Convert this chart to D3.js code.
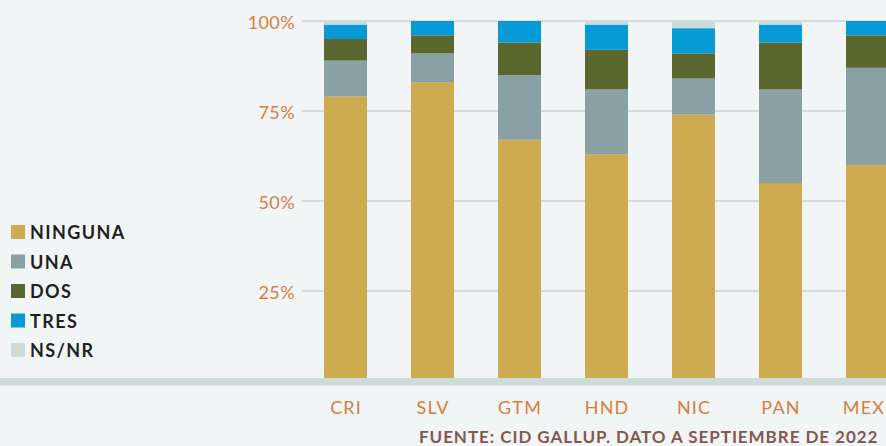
<!DOCTYPE html>
<html>
<head>
<meta charset="utf-8">
<script src="https://cdn.jsdelivr.net/npm/d3@7"></script>
<style>
  html, body { margin: 0; padding: 0; background: #f1f5f6; }
  svg { display: block; }
</style>
</head>
<body>
<div id="chart"></div>
<script>
// DATOS
const paises = ["CRI", "SLV", "GTM", "HND", "NIC", "PAN", "MEX"];
const categorias = ["NINGUNA", "UNA", "DOS", "TRES", "NS/NR"];
const ninguna = [79, 83, 67, 63, 74, 55, 60];
const una     = [10,  8, 18, 18, 10, 26, 27];
const dos     = [ 6,  5,  9, 11,  7, 13,  9];
const tres    = [ 4,  4,  6,  7,  7,  5,  4];
const nsnr    = [ 1,  0,  0,  1,  2,  1,  0];
const ticks = [0.25, 0.5, 0.75, 1];
const fuente = "FUENTE: CID GALLUP. DATO A SEPTIEMBRE DE 2022";

const COLORES = ["#cdab4e", "#89a0a5", "#5a672e", "#079ad6", "#cbdcda"];
const ORANGE = "#d67e3e";
const FONT = "Lato, 'Noto Sans', sans-serif";

const width = 886, height = 446;
const svg = d3.select("#chart").append("svg")
    .attr("width", width).attr("height", height);

svg.append("rect").attr("width", width).attr("height", height).attr("fill", "#f1f5f6");

const series = [ninguna, una, dos, tres, nsnr];
const tabla = paises.map((p, i) => {
    const row = { pais: p };
    categorias.forEach((c, k) => { row[c] = series[k][i]; });
    return row;
});
const stack = d3.stack().keys(categorias).value((d, k) => d[k] / 100)(tabla);

// paso de 87px, barras de 43px, la primera en x=324
const x = d3.scaleBand().domain(paises).range([324, 889]).paddingInner(0.5057).paddingOuter(0).align(0);
const y = d3.scaleLinear().domain([0, 1]).range([381, 21]);
const color = d3.scaleOrdinal().domain(categorias).range(COLORES);

// rejilla
svg.append("g").selectAll("line").data(ticks).join("line")
    .attr("x1", 302).attr("x2", width)
    .attr("y1", d => y(d)).attr("y2", d => y(d))
    .attr("stroke", "#d3dedc").attr("stroke-width", 2);

// eje y
svg.append("g").selectAll("text").data(ticks).join("text")
    .attr("x", 295).attr("y", d => y(d)).attr("dy", "0.45em")
    .attr("text-anchor", "end")
    .attr("fill", ORANGE).attr("font-family", FONT).attr("font-size", 18)
    .attr("letter-spacing", 0.4)
    .text(d3.format(".0%"));

// barras
svg.append("g").selectAll("g").data(stack).join("g")
    .attr("fill", d => color(d.key))
    .selectAll("rect").data(d => d).join("rect")
    .attr("x", d => x(d.data.pais))
    .attr("y", d => y(d[1]))
    .attr("height", d => y(d[0]) - y(d[1]))
    .attr("width", x.bandwidth());

// base
svg.append("rect").attr("x", 0).attr("y", 378).attr("width", width).attr("height", 7).attr("fill", "#cbdcd9");
svg.append("line").attr("x1", 0).attr("x2", width).attr("y1", 385.5).attr("y2", 385.5).attr("stroke", "#e2eae9");

// eje x
svg.append("g").selectAll("text").data(paises).join("text")
    .attr("x", d => Math.min(x(d) + x.bandwidth() / 2 + 0.6, 864)).attr("y", 414)
    .attr("text-anchor", "middle")
    .attr("fill", ORANGE).attr("font-family", FONT).attr("font-size", 18)
    .attr("letter-spacing", 1.2)
    .text(d => d);

// leyenda
const leyenda = svg.append("g").selectAll("g").data(categorias).join("g")
    .attr("transform", (d, i) => `translate(11,${225 + i * 29.5})`);
leyenda.append("rect").attr("width", 14).attr("height", 14).attr("fill", d => color(d));
leyenda.append("text").attr("x", 19).attr("y", 14)
    .attr("fill", "#231f20").attr("font-family", FONT).attr("font-size", 18).attr("font-weight", 700)
    .attr("letter-spacing", 1.4)
    .text(d => d);

// fuente
svg.append("text").attr("x", 419).attr("y", 443)
    .attr("fill", "#84574f").attr("font-family", FONT).attr("font-size", 17).attr("font-weight", 700)
    .attr("letter-spacing", 0.95)
    .text(fuente);
</script>
</body>
</html>
